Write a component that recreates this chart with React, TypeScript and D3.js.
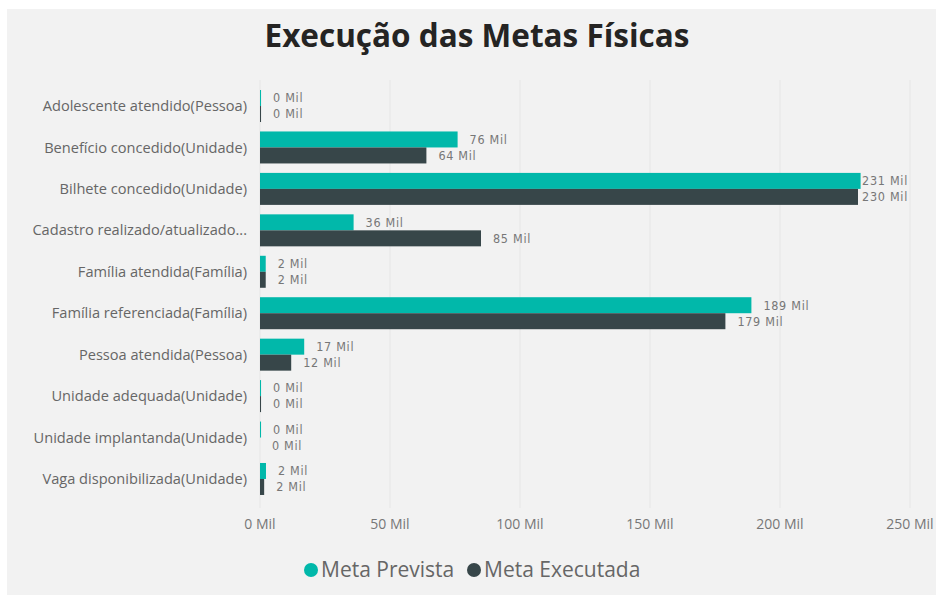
import React from "react";
import * as d3 from "d3";

const categories = [
  "Adolescente atendido(Pessoa)",
  "Benefício concedido(Unidade)",
  "Bilhete concedido(Unidade)",
  "Cadastro realizado/atualizado...",
  "Família atendida(Família)",
  "Família referenciada(Família)",
  "Pessoa atendida(Pessoa)",
  "Unidade adequada(Unidade)",
  "Unidade implantanda(Unidade)",
  "Vaga disponibilizada(Unidade)",
];
const metaPrevista = [0.4, 76, 231, 36, 2.2, 189, 17, 0.4, 0.4, 2.3];
const metaExecutada = [0.4, 64, 230, 85, 2.2, 179, 12, 0.4, 0, 1.6];
const seriesNames = ["Meta Prevista", "Meta Executada"];
const seriesColors = ["#01B8AA", "#374649"];
const xTicks = [0, 50, 100, 150, 200, 250];

const W = 936;
const H = 595;
const fmt = (v: number) => `${Math.round(v)} Mil`;

export default function App() {
  const x = d3.scaleLinear().domain([0, 250]).range([260, 910]);
  const y = d3.scaleBand<string>().domain(categories).range([85.3, 499.7]).paddingInner(0.228).paddingOuter(0.114);
  const inner = d3.scaleBand<string>().domain(seriesNames).range([0, y.bandwidth()]).padding(0);
  const series = [metaPrevista, metaExecutada];
  const labelFont = "'DejaVu Sans Condensed', sans-serif";
  const uiFont = "'Open Sans', sans-serif";
  const xRight = x.range()[1];

  return (
    <svg width={W} height={H} style={{ position: "absolute", left: 0, top: 0, display: "block" }}>
      <rect x={0} y={0} width={W} height={H} fill="#ffffff" />
      <rect x={7} y={9} width={W - 7} height={H - 9} fill="#f2f2f2" />
      <text x={477} y={47} textAnchor="middle" fontFamily={uiFont} fontWeight={700} fontSize={31.5} fill="#252423">
        Execução das Metas Físicas
      </text>
      {xTicks.map((t) => (
        <g key={t}>
          <line x1={x(t)} x2={x(t)} y1={80} y2={508} stroke="#e6e6e6" strokeWidth={1} />
          <text x={x(t)} y={529} textAnchor="middle" fontFamily={uiFont} fontSize={14} fill="#777777">
            {fmt(t)}
          </text>
        </g>
      ))}
      {categories.map((c, i) => (
        <g key={c} transform={`translate(0,${y(c)})`}>
          <text x={247} y={y.bandwidth() / 2} dy="0.35em" textAnchor="end" fontFamily={uiFont} fontSize={14.6} fill="#666666">
            {c}
          </text>
          {series.map((s, j) => {
            const v = s[i];
            const by = inner(seriesNames[j])!;
            const bx = x(v);
            const label = fmt(v);
            const estW = label.length * 7;
            const overflow = bx + 12 + estW > xRight;
            return (
              <g key={j}>
                <rect x={x(0)} y={by} width={Math.max(0, bx - x(0))} height={inner.bandwidth()} fill={seriesColors[j]} />
                <text
                  x={overflow ? xRight - 2 : bx + 12}
                  y={by + inner.bandwidth() / 2}
                  dy="0.35em"
                  textAnchor={overflow ? "end" : "start"}
                  fontFamily={labelFont}
                  fontSize={12.5}
                  letterSpacing={0.7}
                  fill="#777777"
                >
                  {label}
                </text>
              </g>
            );
          })}
        </g>
      ))}
      <g>
        <circle cx={311} cy={570} r={7} fill={seriesColors[0]} />
        <text x={321} y={570} dy="0.35em" fontFamily={uiFont} fontSize={21} fill="#666666">
          {seriesNames[0]}
        </text>
        <circle cx={474} cy={570} r={7} fill={seriesColors[1]} />
        <text x={484} y={570} dy="0.35em" fontFamily={uiFont} fontSize={21} fill="#666666">
          {seriesNames[1]}
        </text>
      </g>
    </svg>
  );
}
